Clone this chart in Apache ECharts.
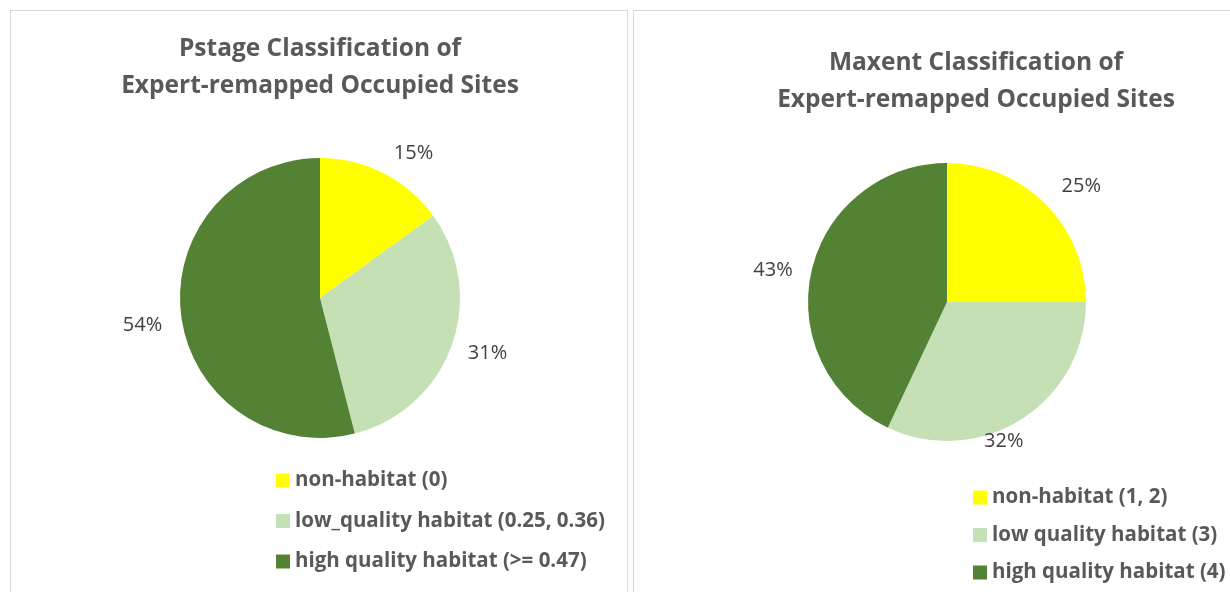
<!DOCTYPE html>
<html>
<head>
<meta charset="utf-8">
<script src="https://cdn.jsdelivr.net/npm/echarts@6/dist/echarts.min.js"></script>
<style>
    html, body { margin: 0; padding: 0; background: #fff; overflow: hidden; }
    .panel { position: absolute; top: 10px; height: 600px; border: 1px solid #d9d9d9; box-sizing: border-box; }
    #left { left: 10px; width: 618px; }
    #right { left: 633px; width: 620px; }
</style>
</head>
<body>
<div class="panel" id="left"></div>
<div class="panel" id="right"></div>
<script>
// ---------------------------------------------- 数据
var pstageNames = ['non-habitat (0)', 'low_quality habitat (0.25, 0.36)', 'high quality habitat (>= 0.47)'];
var pstageValues = [15, 31, 54];
var maxentNames = ['non-habitat (1, 2)', 'low quality habitat (3)', 'high quality habitat (4)'];
var maxentValues = [25, 32, 43];
var colors = ['#ffff00', '#c5e0b4', '#548235'];

function makePie(id, title, names, values, pos) {
    var chart = echarts.init(document.getElementById(id));
    var data = [];
    for (var i = 0; i < names.length; i++) {
        data.push({ name: names[i], value: values[i] });
    }
    var option = {
        animation: false,
        color: colors,
        title: {
            text: title,
            left: pos.titleX,
            top: pos.titleY,
            textAlign: 'center',
            textStyle: {
                fontFamily: 'Open Sans',
                fontWeight: 'bold',
                fontSize: 24.5,
                lineHeight: 37,
                color: '#595959'
            }
        },
        legend: {
            orient: 'vertical',
            left: pos.legendX,
            top: pos.legendY,
            itemWidth: 14,
            itemHeight: 14,
            itemGap: pos.legendGap,
            icon: 'rect',
            data: names,
            textStyle: {
                fontFamily: 'Open Sans',
                fontWeight: 'bold',
                fontSize: 20.5,
                color: '#595959'
            }
        },
        series: [{
            type: 'pie',
            center: pos.center,
            radius: pos.r,
            startAngle: 90,
            clockwise: true,
            avoidLabelOverlap: false,
            data: data,
            label: {
                show: true,
                position: 'outside',
                formatter: '{c}%',
                fontFamily: 'Open Sans',
                fontSize: 20,
                color: '#404040'
            },
            labelLine: { show: false, length: 16, length2: 0 },
            // Excel 的 "最佳匹配" 标签位置微调
            labelLayout: function (p) {
                var s = pos.labelShift[p.dataIndex];
                return { dx: s[0], dy: s[1] };
            },
            itemStyle: { borderWidth: 0 },
            emphasis: { disabled: true }
        }]
    };
    chart.setOption(option);
}

makePie('left', 'Pstage Classification of\nExpert-remapped Occupied Sites', pstageNames, pstageValues, {
    titleX: 304, titleY: 15, center: [309, 287], r: 140,
    legendX: 260, legendY: 454, legendGap: 19.5,
    labelShift: [[-2, -6], [-4, 2], [2, 8]]
});
makePie('right', 'Maxent Classification of\nExpert-remapped Occupied Sites', maxentNames, maxentValues, {
    titleX: 337, titleY: 29, center: [313, 291], r: 139,
    legendX: 334, legendY: 471, legendGap: 16.5,
    labelShift: [[0, -6], [-51, 8], [2, 2]]
});
</script>
</body>
</html>
